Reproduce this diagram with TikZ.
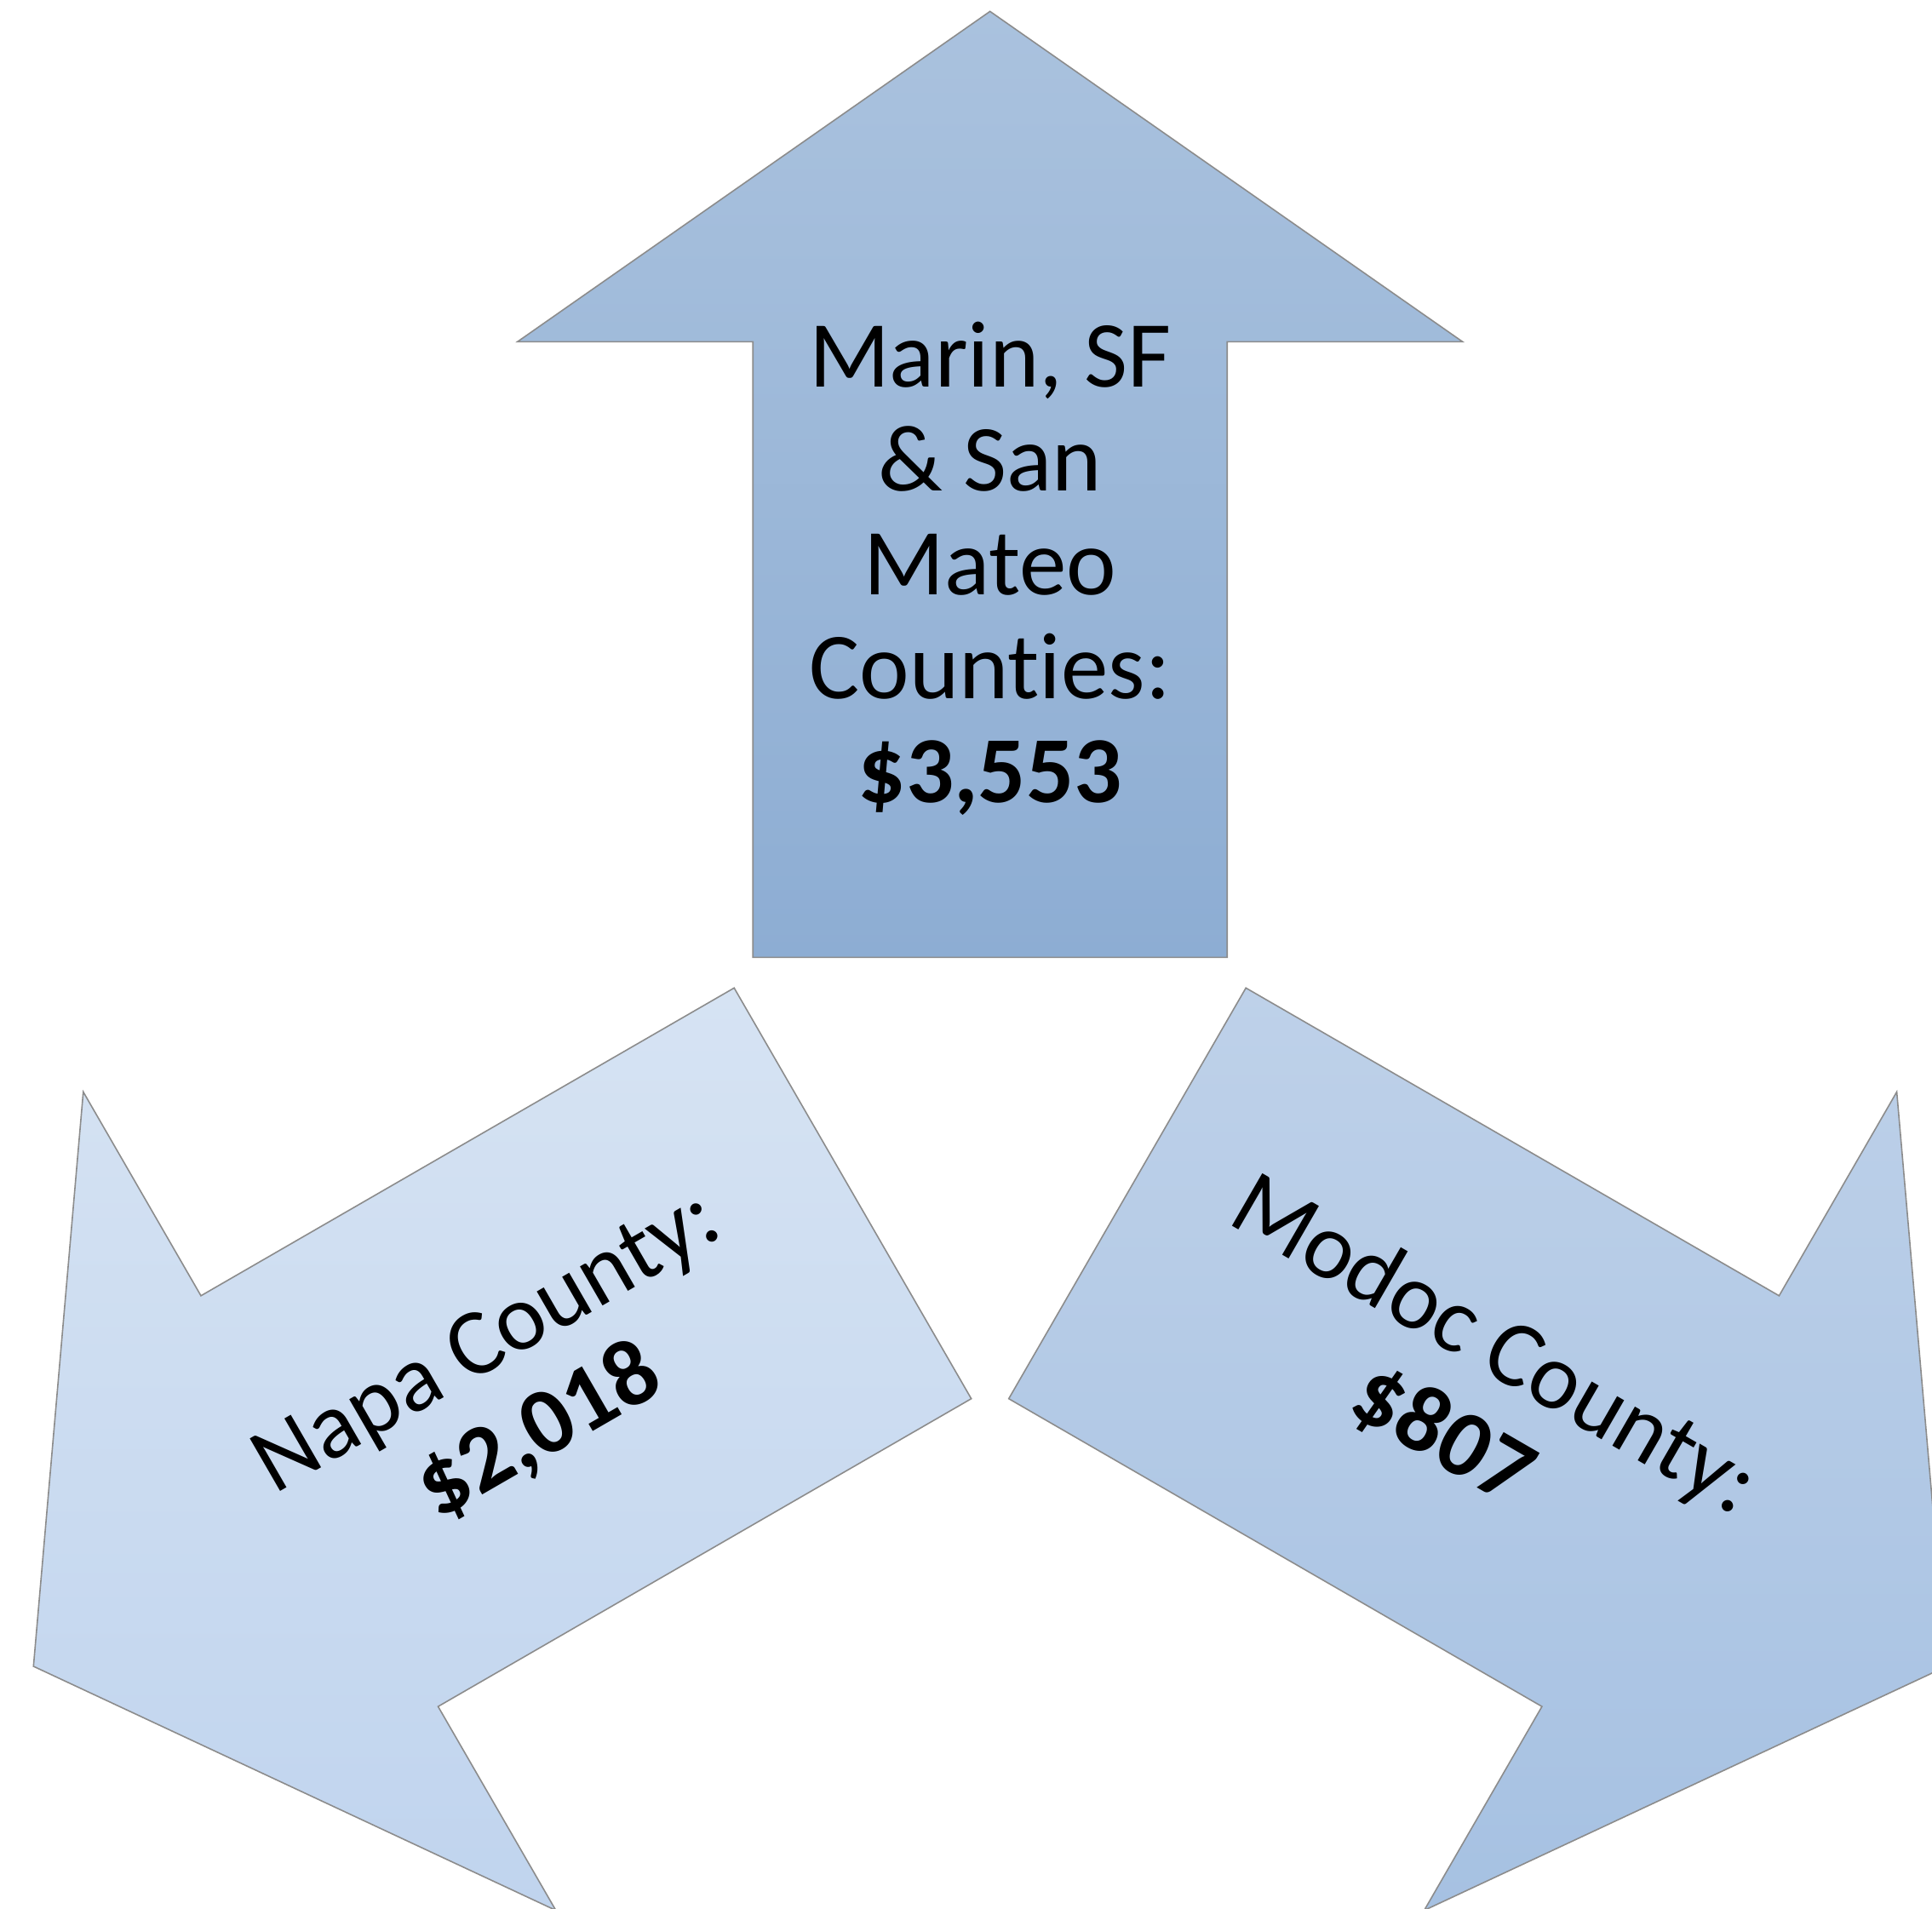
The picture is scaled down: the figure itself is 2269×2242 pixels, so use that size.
\documentclass[tikz,border=0pt]{standalone}
\usepackage{fontspec}
\setmainfont[Ligatures={NoCommon}]{Carlito}
\definecolor{upTop}{HTML}{AAC2DE}
\definecolor{upBot}{HTML}{8DADD3}
\definecolor{napaTop}{HTML}{D6E3F3}
\definecolor{napaBot}{HTML}{C0D4EE}
\definecolor{modocTop}{HTML}{BED1E9}
\definecolor{modocBot}{HTML}{A6C1E2}
\definecolor{edge}{HTML}{8C8C8C}
\begin{document}
\begin{tikzpicture}[x=1pt,y=1pt,
  arrowshape/.style={draw=edge, line width=1.6pt, line join=miter},
  lbl/.style={align=center, font=\fontsize{111}{122}\selectfont, inner sep=0pt, text=black}]
\useasboundingbox (0,0) rectangle (2269,2242);
\clip (0,0) rectangle (2269,2242);
% top arrow (Marin, SF & San Mateo)
\shadedraw[arrowshape, top color=upTop, bottom color=upBot]
  (884.2,1117.6) -- (884.2,1840.6) -- (607.7,1840.6) -- (1162.7,2228.6)
  -- (1717.7,1840.6) -- (1441.2,1840.6) -- (1441.2,1117.6) -- cycle;
% Napa arrow
\shadedraw[arrowshape, top color=napaTop, bottom color=napaBot]
  (1140.7,599.3) -- (514.5,237.8) -- (652.8,-1.6) -- (39.3,285)
  -- (97.8,959.6) -- (236,720.2) -- (862.2,1081.7) -- cycle;
% Modoc arrow
\shadedraw[arrowshape, top color=modocTop, bottom color=modocBot]
  (1184.7,599.3) -- (1810.9,237.8) -- (1672.6,-1.6) -- (2286.1,285)
  -- (2227.6,959.6) -- (2089.4,720.2) -- (1463.2,1081.7) -- cycle;
% labels
\node[lbl] (marin) at (1162.7,1574) {Marin, SF\\ \& San\\ Mateo\\ Counties:\\ \textbf{\$3,553}};
\node[lbl, rotate=30] (napa) at (604,611) {Napa County:\\ \textbf{\$2,018}};
\node[lbl, rotate=-30] (modoc) at (1724.9,609) {Modoc County:\\ \textbf{\$807}};
\end{tikzpicture}
\end{document}
